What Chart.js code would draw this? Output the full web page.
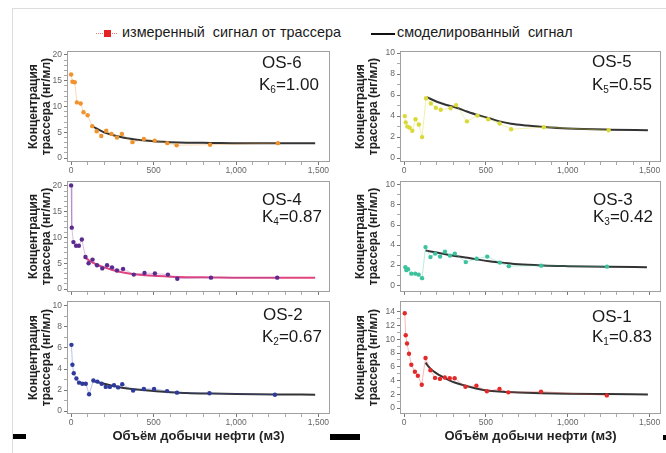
<!DOCTYPE html>
<html>
<head>
<meta charset="utf-8">
<script src="https://cdn.jsdelivr.net/npm/chart.js@4.4.1/dist/chart.umd.min.js"></script>
<style>
  body { margin: 0; background: #fff; font-family: "Liberation Sans", Arial, sans-serif; }
  #page { position: relative; width: 666px; height: 453px; overflow: hidden; background: #fff; }
  .frame { position: absolute; left: 12px; top: 8px; width: 700px; height: 500px;
           border-top: 1px solid #dcdcdc; border-left: 1px solid #dcdcdc; }
  canvas { position: absolute; }
  .lbl { position: absolute; font-size: 17px; line-height: 17px; color: #1a1a1a; white-space: nowrap; }
  .lbl sub { font-size: 10px; line-height: 0; vertical-align: -3px; }
  .legend { position: absolute; font-size: 14.4px; line-height: 14px; color: #1a1a1a; white-space: pre; }
  .bar { position: absolute; background: #000; }
</style>
</head>
<body>
<div id="page">
  <div class="frame"></div>

  <div style="position:absolute;left:96px;top:33px;width:21px;border-top:1px dotted #f07a7a;"></div>
  <div style="position:absolute;left:104px;top:30px;width:7px;height:7px;background:#e52222;"></div>
  <div class="legend" style="left:122px;top:25px;">измеренный  сигнал от трассера</div>
  <div style="position:absolute;left:371px;top:33px;width:24px;height:2px;background:#111;"></div>
  <div class="legend" style="left:397px;top:25px;">смоделированный  сигнал</div>

  <canvas id="c6" width="322" height="136" style="left:14px;top:44px;"></canvas>
  <canvas id="c5" width="324" height="136" style="left:341px;top:44px;"></canvas>
  <canvas id="c4" width="322" height="125" style="left:14px;top:174px;"></canvas>
  <canvas id="c3" width="324" height="125" style="left:341px;top:174px;"></canvas>
  <canvas id="c2" width="322" height="152" style="left:14px;top:294px;"></canvas>
  <canvas id="c1" width="324" height="152" style="left:341px;top:294px;"></canvas>

  <div class="lbl" style="left:262px;top:54px;">OS-6</div>
  <div class="lbl" style="left:259px;top:76px;">K<sub>6</sub>=1.00</div>
  <div class="lbl" style="left:592px;top:53px;">OS-5</div>
  <div class="lbl" style="left:592px;top:76px;">K<sub>5</sub>=0.55</div>
  <div class="lbl" style="left:262px;top:191px;">OS-4</div>
  <div class="lbl" style="left:262px;top:208px;">K<sub>4</sub>=0.87</div>
  <div class="lbl" style="left:593px;top:191px;">OS-3</div>
  <div class="lbl" style="left:593px;top:208px;">K<sub>3</sub>=0.42</div>
  <div class="lbl" style="left:263px;top:306px;">OS-2</div>
  <div class="lbl" style="left:262px;top:328px;">K<sub>2</sub>=0.67</div>
  <div class="lbl" style="left:592px;top:308px;">OS-1</div>
  <div class="lbl" style="left:592px;top:328px;">K<sub>1</sub>=0.83</div>

  <div class="bar" style="left:13px;top:434px;width:13px;height:5px;"></div>
  <div class="bar" style="left:330px;top:434px;width:30px;height:6px;"></div>
  <div class="bar" style="left:663px;top:435px;width:3px;height:5px;"></div>
</div>

<script>
"use strict";

// oil volume axis (m3)
const xMajorTicks = [0, 500, 1000, 1500];
const xMinorStep = 100;

const yTitle = ['Концентрация', 'трассера (нг/мл)'];
const xTitle = 'Объём добычи нефти (м3)';

// OS-6
const os6X = [0, 8, 22, 35, 58, 75, 100, 128, 155, 183, 213, 245, 278, 308, 372, 441, 507, 583, 640, 843, 1254];
const os6Y = [16.2, 14.8, 14.7, 10.8, 10.6, 8.9, 8.3, 6.2, 5.2, 4.3, 5.3, 4.7, 4.0, 4.7, 3.1, 3.7, 3.4, 2.9, 2.5, 2.6, 2.9];
const os6ModelX = [125, 150, 200, 250, 300, 350, 400, 450, 500, 600, 700, 850, 1000, 1250, 1480];
const os6ModelY = [6.3, 5.8, 5.0, 4.5, 4.1, 3.8, 3.55, 3.4, 3.25, 3.1, 3.0, 2.95, 2.9, 2.9, 2.9];

// OS-5
const os5X = [4, 10, 20, 34, 50, 70, 90, 110, 134, 164, 194, 224, 284, 318, 384, 448, 514, 584, 654, 854, 1250];
const os5Y = [4.0, 3.4, 3.0, 2.9, 2.6, 3.7, 3.2, 2.0, 5.7, 5.2, 4.8, 4.6, 4.75, 5.05, 3.5, 4.05, 3.7, 3.3, 2.75, 2.95, 2.65];
const os5ModelX = [140, 200, 260, 320, 384, 450, 514, 584, 654, 750, 854, 1000, 1254, 1490];
const os5ModelY = [5.8, 5.37, 5.06, 4.8, 4.44, 4.1, 3.83, 3.5, 3.27, 3.1, 2.96, 2.82, 2.71, 2.66];

// OS-4
const os4X = [0, 4, 14, 30, 47, 65, 87, 106, 130, 157, 189, 218, 248, 278, 315, 380, 445, 508, 587, 644, 848, 1250];
const os4Y = [20.1, 11.9, 9.1, 8.4, 8.4, 9.6, 6.2, 5.0, 5.7, 4.6, 4.0, 4.6, 4.2, 3.6, 3.9, 2.8, 3.1, 3.0, 2.8, 2.0, 2.2, 2.2];
const os4ModelX = [90, 120, 150, 200, 250, 300, 350, 400, 500, 600, 700, 850, 1000, 1250, 1480];
const os4ModelY = [6.0, 5.3, 4.8, 4.2, 3.7, 3.3, 3.0, 2.8, 2.55, 2.4, 2.3, 2.25, 2.2, 2.2, 2.2];

// OS-3
const os3X = [8, 14, 24, 44, 68, 89, 110, 131, 161, 190, 220, 250, 280, 310, 377, 443, 508, 585, 640, 838, 1240];
const os3Y = [1.8, 1.5, 1.6, 1.15, 1.15, 1.05, 0.7, 3.8, 2.8, 3.15, 2.85, 3.35, 2.95, 3.15, 2.3, 2.65, 2.85, 2.25, 1.9, 1.95, 1.85];
const os3ModelX = [131, 200, 260, 320, 389, 455, 520, 600, 700, 849, 1000, 1250, 1484];
const os3ModelY = [3.45, 3.25, 3.05, 2.88, 2.73, 2.55, 2.38, 2.25, 2.08, 1.96, 1.9, 1.84, 1.8];

// OS-2
const os2X = [2, 8, 16, 32, 48, 68, 89, 109, 135, 159, 185, 210, 235, 260, 285, 310, 376, 441, 503, 582, 642, 839, 1236];
const os2Y = [6.3, 4.4, 3.6, 3.1, 2.7, 2.6, 2.6, 1.6, 2.9, 2.8, 2.6, 2.3, 2.3, 2.45, 2.25, 2.55, 1.95, 2.1, 2.1, 1.9, 1.75, 1.7, 1.55];
const os2ModelX = [135, 200, 250, 300, 400, 500, 600, 700, 850, 1000, 1250, 1480];
const os2ModelY = [2.85, 2.6, 2.4, 2.25, 2.05, 1.9, 1.8, 1.72, 1.66, 1.62, 1.58, 1.56];

// OS-1
const os1X = [4, 10, 18, 30, 44, 66, 84, 108, 131, 161, 189, 219, 249, 279, 309, 375, 442, 506, 583, 637, 837, 1239];
const os1Y = [13.8, 10.6, 9.4, 7.9, 6.3, 5.3, 4.7, 3.4, 7.3, 5.5, 4.4, 4.25, 4.45, 4.35, 4.35, 3.1, 3.25, 2.45, 2.8, 2.3, 2.4, 1.85];
const os1ModelX = [131, 161, 189, 219, 250, 280, 309, 375, 440, 506, 600, 700, 837, 1000, 1239, 1490];
const os1ModelY = [6.6, 5.75, 5.2, 4.75, 4.35, 4.0, 3.73, 3.25, 2.85, 2.55, 2.38, 2.27, 2.17, 2.1, 2.05, 2.0];

const panels = [
  { id: 'c6', x: os6X, y: os6Y, mx: os6ModelX, my: os6ModelY, color: '#f0922e', line: 'rgba(240,146,46,0.35)',
    model: '#333', yMin: -0.75, yMax: 20.75, yTop: 20, yMajor: 5, axisW: 53, padR: 6, axisH: 18, labels: true, title: false },
  { id: 'c5', x: os5X, y: os5Y, mx: os5ModelX, my: os5ModelY, color: '#d9d93a', line: 'rgba(217,217,58,0.4)',
    model: '#333', yMin: -0.37, yMax: 10.19, yTop: 10, yMajor: 2, axisW: 59, padR: 4, axisH: 18, labels: true, title: false },
  { id: 'c4', x: os4X, y: os4Y, mx: os4ModelX, my: os4ModelY, color: '#5a2a8e', line: 'rgba(140,70,170,0.35)',
    model: '#e0457f', yMin: -0.56, yMax: 20.93, yTop: 20, yMajor: 5, axisW: 53, padR: 6, axisH: 6, labels: false, title: false },
  { id: 'c3', x: os3X, y: os3Y, mx: os3ModelX, my: os3ModelY, color: '#3cc29e', line: 'rgba(60,194,158,0.35)',
    model: '#333', yMin: -0.67, yMax: 10.38, yTop: 10, yMajor: 2, axisW: 59, padR: 4, axisH: 6, labels: false, title: false },
  { id: 'c2', x: os2X, y: os2Y, mx: os2ModelX, my: os2ModelY, color: '#2e3a9c', line: 'rgba(60,80,190,0.35)',
    model: '#333', yMin: -0.28, yMax: 10.46, yTop: 10, yMajor: 2, axisW: 53, padR: 6, axisH: 32, labels: true, title: true },
  { id: 'c1', x: os1X, y: os1Y, mx: os1ModelX, my: os1ModelY, color: '#e22a2a', line: 'rgba(226,60,60,0.35)',
    model: '#333', yMin: -0.85, yMax: 15.56, yTop: 14, yMajor: 2, axisW: 59, padR: 4, axisH: 32, labels: true, title: true }
];

function pointsOf(xs, ys) {
  return xs.map((x, i) => ({ x: x, y: ys[i] }));
}

function range(from, to, step) {
  let out = [];
  for (let v = from; v <= to + 1e-9; v += step) out.push(v);
  return out;
}

// grey box round the plot area
const frameBox = {
  id: 'frameBox',
  beforeDatasetsDraw(chart) {
    const a = chart.chartArea;
    const ctx = chart.ctx;
    ctx.save();
    ctx.strokeStyle = '#a0a0a0';
    ctx.lineWidth = 1;
    ctx.strokeRect(Math.round(a.left) + 0.5, Math.round(a.top) + 0.5,
                   Math.round(a.right - a.left) - 1, Math.round(a.bottom - a.top) - 1);
    ctx.restore();
  }
};

function makePanel(p) {
  const tickFont = { family: '"Liberation Sans", Arial, sans-serif', size: 8.5 };
  const config = {
    type: 'line',
    data: {
      datasets: [
        {
          data: pointsOf(p.x, p.y),
          borderColor: p.line,
          borderWidth: 1,
          backgroundColor: p.color,
          pointBackgroundColor: p.color,
          pointBorderWidth: 0,
          pointRadius: 2.2,
          tension: 0
        },
        {
          data: pointsOf(p.mx, p.my),
          borderColor: p.model,
          borderWidth: 2,
          pointRadius: 0,
          cubicInterpolationMode: 'monotone'
        }
      ]
    },
    options: {
      responsive: false,
      animation: false,
      devicePixelRatio: 1,
      layout: { padding: { top: 4, right: p.padR, left: 0, bottom: 0 } },
      plugins: { legend: { display: false }, tooltip: { enabled: false } },
      scales: {
        x: {
          type: 'linear',
          min: -25,
          max: 1570,
          afterBuildTicks: s => { s.ticks = range(0, 1500, xMinorStep).map(v => ({ value: v })); },
          afterFit: s => { s.height = p.axisH; },
          ticks: {
            autoSkip: false,
            maxRotation: 0,
            padding: 1,
            color: '#666',
            font: tickFont,
            callback: v => (p.labels && xMajorTicks.includes(v)) ? v.toLocaleString('en-US') : ''
          },
          grid: {
            drawOnChartArea: false,
            drawTicks: true,
            tickLength: 3,
            tickColor: c => (c.tick && c.tick.value % 500 === 0) ? '#777' : '#aaa'
          },
          border: { display: false },
          title: {
            display: p.title,
            text: xTitle,
            color: '#222',
            padding: { top: 2, bottom: 2 },
            font: { family: '"Liberation Sans", Arial, sans-serif', size: 13, weight: 'bold' }
          }
        },
        y: {
          min: p.yMin,
          max: p.yMax,
          afterBuildTicks: s => { s.ticks = range(0, p.yTop, 1).map(v => ({ value: v })); },
          afterFit: s => { s.width = p.axisW; },
          ticks: {
            autoSkip: false,
            padding: 2,
            color: '#666',
            font: tickFont,
            callback: v => (v % p.yMajor === 0) ? String(v) : ''
          },
          grid: {
            drawOnChartArea: false,
            drawTicks: true,
            tickLength: 3,
            tickColor: c => (c.tick && c.tick.value % p.yMajor === 0) ? '#777' : '#aaa'
          },
          border: { display: false },
          title: {
            display: true,
            text: yTitle,
            color: '#222',
            padding: { top: 13.7, bottom: 0 },
            font: { family: '"Liberation Sans", Arial, sans-serif', size: 12, weight: 'bold', lineHeight: 1.05 }
          }
        }
      }
    },
    plugins: [frameBox]
  };
  return new Chart(document.getElementById(p.id).getContext('2d'), config);
}

for (const p of panels) makePanel(p);
</script>
</body>
</html>
